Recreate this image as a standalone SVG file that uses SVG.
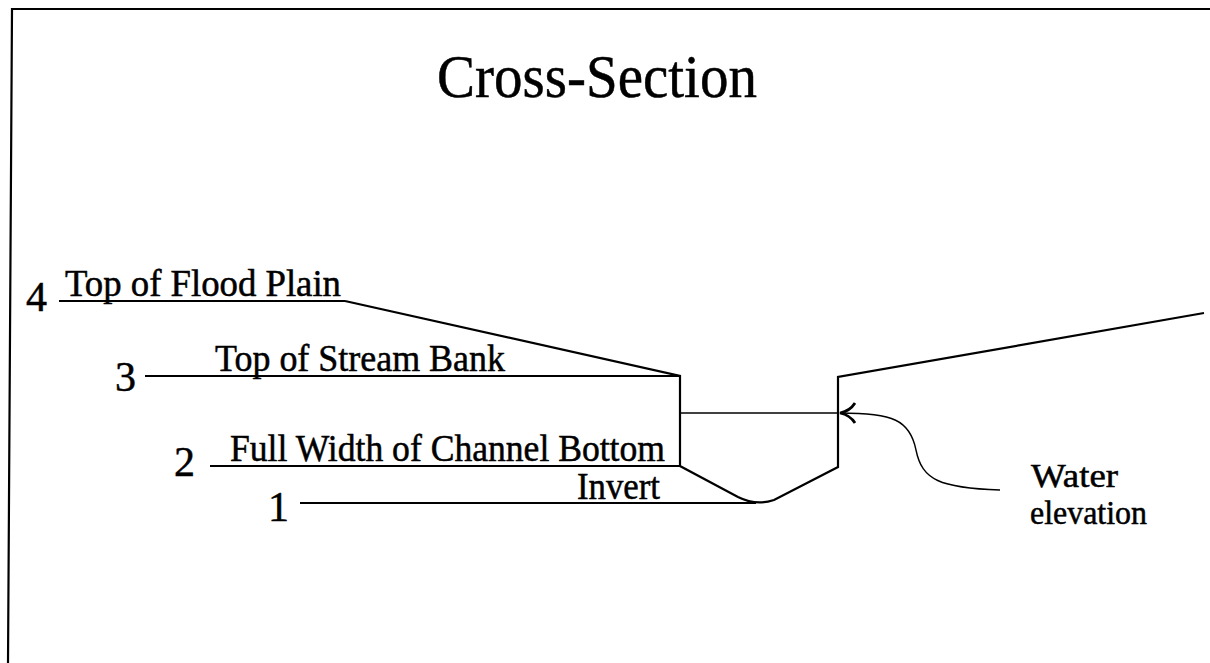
<svg xmlns="http://www.w3.org/2000/svg" width="1210" height="663" viewBox="0 0 1210 663">
  <style>
    text { font-family: "Liberation Serif", "Times New Roman", serif; fill: #000; stroke: #000; stroke-width: 0.5; }
    .title { font-size: 61px; }
    .num { font-size: 42px; }
    .lbl { font-size: 37px; }
    .note { font-size: 33px; }
    .ln { fill: none; stroke: #000; stroke-width: 2.2; stroke-linejoin: miter; }
    .thin { fill: none; stroke: #000; stroke-width: 1.4; }
  </style>
  <defs>
    <marker id="arrow" viewBox="0 0 24 24" refX="2" refY="12" markerWidth="24" markerHeight="24" markerUnits="userSpaceOnUse" orient="auto">
      <path d="M17,2 Q12,10 2,12 Q12,14 17,22" fill="none" stroke="#000" stroke-width="2.8"/>
    </marker>
  </defs>
  <rect width="1210" height="663" fill="#fff"/>

  <!-- page frame: top and left edges only -->
  <g id="frame">
    <path class="ln" stroke-width="2.5" d="M1210,9 L12,9 L8,663"/>
  </g>

  <text id="title" class="title" x="597" y="97" text-anchor="middle" textLength="320" lengthAdjust="spacingAndGlyphs">Cross-Section</text>

  <!-- ground profile of the channel -->
  <g id="profile">
    <path class="ln" d="M345,301 L680,376 L680,466 L738,497 Q756,506 774,500 L838,467 L838,377 L1204,313"/>
  </g>

  <!-- elevation levels 1 to 4 -->
  <g id="level-4">
    <text class="num" x="26" y="311">4</text>
    <line class="ln" x1="59" y1="301" x2="345" y2="301"/>
    <text class="lbl" x="65" y="296" textLength="276" lengthAdjust="spacingAndGlyphs">Top of Flood Plain</text>
  </g>
  <g id="level-3">
    <text class="num" x="115" y="391">3</text>
    <line class="ln" x1="145" y1="376" x2="680" y2="376"/>
    <text class="lbl" x="215" y="371" textLength="290" lengthAdjust="spacingAndGlyphs">Top of Stream Bank</text>
  </g>
  <g id="level-2">
    <text class="num" x="174" y="476">2</text>
    <line class="ln" x1="210" y1="466" x2="680" y2="466"/>
    <text class="lbl" x="230" y="461" textLength="435" lengthAdjust="spacingAndGlyphs">Full Width of Channel Bottom</text>
  </g>
  <g id="level-1">
    <text class="num" x="268" y="521">1</text>
    <line class="ln" x1="300" y1="503" x2="756" y2="503"/>
    <text class="lbl" x="577" y="499" textLength="83" lengthAdjust="spacingAndGlyphs">Invert</text>
  </g>

  <!-- water surface and its callout -->
  <g id="water">
    <line class="thin" x1="680" y1="413" x2="838" y2="413"/>
  </g>
  <g id="connectors">
    <path class="thin" stroke-width="2" d="M840,413 C893,413 910,420 916,450 C922,480 940,488 1000,490" marker-start="url(#arrow)"/>
  </g>
  <g id="water-label">
    <text class="note" x="1031" y="487" textLength="87" lengthAdjust="spacingAndGlyphs">Water</text>
    <text class="note" x="1030" y="524" textLength="117" lengthAdjust="spacingAndGlyphs">elevation</text>
  </g>
</svg>
